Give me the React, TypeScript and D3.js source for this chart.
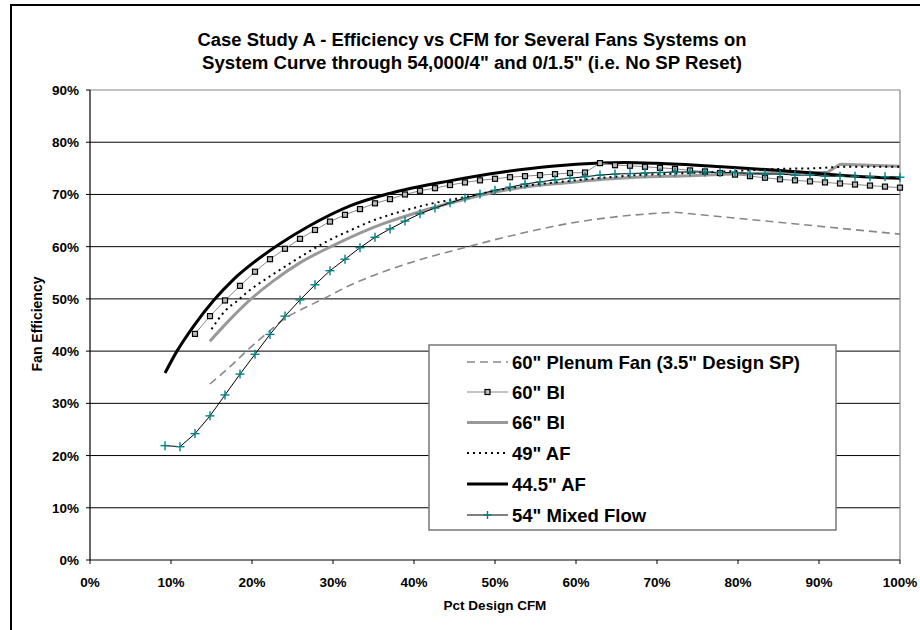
import React from "react";
import * as d3 from "d3";

// ---------- data ----------
const DESIGN_KCFM = 54;
const xTicks = [0, 10, 20, 30, 40, 50, 60, 70, 80, 90, 100];
const yTicks = [0, 10, 20, 30, 40, 50, 60, 70, 80, 90];

const titleLines = [
  "Case Study A - Efficiency vs CFM for Several Fans Systems on",
  "System Curve through 54,000/4\" and 0/1.5\"  (i.e. No SP Reset)",
];

// 54" Mixed Flow — flow in thousand CFM and efficiency %
const mixedKcfm = [5, 6, 7, 8, 9, 10, 11, 12, 13, 14, 15, 16, 17, 18, 19, 20, 21, 22, 23, 24, 25, 26, 27, 28, 29, 30, 31, 32, 33, 34, 35, 36, 37, 38, 39, 40, 41, 42, 43, 44, 45, 46, 47, 48, 49, 50, 51, 52, 53, 54];
const mixedEff = [21.9, 21.7, 24.2, 27.6, 31.6, 35.6, 39.4, 43.2, 46.7, 49.8, 52.7, 55.4, 57.6, 59.8, 61.8, 63.4, 64.9, 66.3, 67.4, 68.4, 69.3, 70.1, 70.8, 71.4, 72.0, 72.4, 72.8, 73.1, 73.4, 73.7, 73.9, 74.0, 74.1, 74.2, 74.3, 74.3, 74.3, 74.2, 74.2, 74.0, 73.9, 73.9, 73.7, 73.7, 73.5, 73.5, 73.5, 73.4, 73.4, 73.3];

// 60" BI
const bi60Kcfm = [7, 8, 9, 10, 11, 12, 13, 14, 15, 16, 17, 18, 19, 20, 21, 22, 23, 24, 25, 26, 27, 28, 29, 30, 31, 32, 33, 34, 35, 36, 37, 38, 39, 40, 41, 42, 43, 44, 45, 46, 47, 48, 49, 50, 51, 52, 53, 54];
const bi60Eff = [43.3, 46.7, 49.7, 52.5, 55.2, 57.6, 59.6, 61.5, 63.2, 64.8, 66.1, 67.2, 68.3, 69.1, 70.0, 70.7, 71.2, 71.8, 72.3, 72.7, 73.0, 73.3, 73.5, 73.7, 73.9, 74.1, 74.2, 76.0, 75.6, 75.5, 75.3, 75.1, 74.9, 74.6, 74.4, 74.1, 73.8, 73.5, 73.2, 72.9, 72.7, 72.5, 72.3, 72.1, 71.9, 71.7, 71.5, 71.3];

// 44.5" AF (pct design CFM, efficiency %)
const af445Pct = [9.26, 10.7, 12.75, 15.2, 17.7, 20.4, 23.5, 27.0, 32.1, 37.0, 44.4, 51.0, 57.0, 63.0, 66.0, 70.0, 78.0, 85.2, 93.4, 100];
const af445Eff = [35.8, 39.9, 44.7, 49.6, 53.7, 57.2, 60.6, 63.9, 67.8, 70.2, 72.6, 74.3, 75.4, 76.0, 76.1, 75.95, 75.3, 74.6, 73.6, 73.1];

// 49" AF
const af49Pct = [15.0, 15.8, 16.8, 18.1, 19.5, 22.2, 24.7, 27.2, 29.6, 32.1, 34.6, 37.0, 39.5, 42.0, 44.4, 46.9, 51.0, 55.1, 59.3, 63.4, 67.5, 72.4, 77.0, 81.1, 85.2, 89.3, 93.4, 100];
const af49Eff = [44.2, 46.0, 47.9, 49.5, 51.4, 54.3, 56.8, 59.2, 61.3, 63.1, 64.8, 66.1, 67.2, 68.2, 68.9, 69.7, 71.0, 71.9, 72.6, 73.2, 73.7, 74.0, 74.3, 74.6, 74.9, 75.0, 75.3, 75.3];

// 66" BI
const bi66Pct = [14.8, 17.0, 19.75, 22.6, 25.9, 30.0, 36.2, 40.3, 44.6, 49.0, 53.1, 59.3, 63.4, 67.5, 74.1, 81.1, 85.2, 91.0, 92.6, 100];
const bi66Eff = [41.9, 45.6, 49.8, 53.4, 56.9, 60.2, 64.4, 66.5, 68.4, 70.1, 71.3, 72.3, 72.9, 73.3, 73.6, 74.0, 74.2, 74.2, 75.8, 75.4];

// 60" Plenum Fan (3.5" Design SP)
const plenumPct = [14.8, 17.7, 19.3, 22.2, 24.1, 26.0, 28.8, 32.1, 34.2, 40.3, 45.7, 53.1, 59.3, 65.4, 72.2, 100];
const plenumEff = [33.7, 37.6, 40.0, 43.9, 46.3, 47.9, 50.0, 52.6, 54.0, 57.3, 59.6, 62.5, 64.5, 65.8, 66.6, 62.4];

const legendLabels = [
  "60\" Plenum Fan (3.5\" Design SP)",
  "60\" BI",
  "66\" BI",
  "49\" AF",
  "44.5\" AF",
  "54\" Mixed Flow",
];

// ---------- layout ----------
const W = 920;
const H = 630;
const PL = 90, PR = 900, PT = 90, PB = 560;
const FONT = "'Liberation Sans', Arial, Helvetica, sans-serif";
const TEAL = "#008080";

type P = [number, number];
const zip = (xs: number[], ys: number[]): P[] => xs.map((x, i) => [x, ys[i]]);

export default function App() {
  const x = d3.scaleLinear().domain([0, 100]).range([PL, PR]);
  const y = d3.scaleLinear().domain([0, 90]).range([PB, PT]);

  const lin = d3.line<P>().x((d) => x(d[0])).y((d) => y(d[1]));
  const smooth = d3.line<P>().x((d) => x(d[0])).y((d) => y(d[1])).curve(d3.curveMonotoneX);

  const mixed = zip(mixedKcfm.map((k) => (k / DESIGN_KCFM) * 100), mixedEff);
  const bi60 = zip(bi60Kcfm.map((k) => (k / DESIGN_KCFM) * 100), bi60Eff);
  const af445 = zip(af445Pct, af445Eff);
  const af49 = zip(af49Pct, af49Eff);
  const bi66 = zip(bi66Pct, bi66Eff);
  const plenum = zip(plenumPct, plenumEff);

  const bi66Smooth = bi66.slice(0, bi66.length - 2);
  const bi66Tail = bi66.slice(bi66.length - 3);
  const plenumSmooth = plenum.slice(0, plenum.length - 1);
  const plenumTail = plenum.slice(plenum.length - 2);

  const plus = (cx: number, cy: number, key: any, s = 4.5) => (
    <g key={key} stroke={TEAL} strokeWidth={1.4}>
      <line x1={cx - s} x2={cx + s} y1={cy} y2={cy} />
      <line x1={cx} x2={cx} y1={cy - s} y2={cy + s} />
    </g>
  );
  const square = (cx: number, cy: number, key: any) => (
    <rect key={key} x={cx - 2.5} y={cy - 2.5} width={5} height={5} fill="#bbb" stroke="#000" strokeWidth={1.2} />
  );

  // legend
  const LX0 = 429, LX1 = 836, LY0 = 345, LY1 = 530;
  const rowY = [362, 392, 422.5, 453, 484, 515];
  const sx0 = 467, sx1 = 508, smid = 487.5;
  const legendStyles = [
    { stroke: "#888", w: 1.6, dash: "8,5" },
    { stroke: "#888", w: 1, dash: undefined },
    { stroke: "#999", w: 3, dash: undefined },
    { stroke: "#000", w: 2, dash: "2,4" },
    { stroke: "#000", w: 3, dash: undefined },
    { stroke: "#000", w: 1, dash: undefined },
  ];

  return (
    <svg
      width={W}
      height={H}
      style={{ position: "absolute", left: 0, top: 0, background: "#fff" }}
      fontFamily={FONT}
    >
      <rect x={0} y={0} width={W} height={H} fill="#fff" />
      {/* outer chart border */}
      <line x1={11} x2={W} y1={5} y2={5} stroke="#000" strokeWidth={2} />
      <line x1={11} x2={11} y1={4} y2={H} stroke="#000" strokeWidth={2} />

      {/* title */}
      {titleLines.map((t, i) => (
        <text
          key={i}
          x={472}
          y={45.5 + i * 23}
          textAnchor="middle"
          fontSize={18}
          fontWeight="bold"
          textLength={i === 0 ? 549 : 540}
          lengthAdjust="spacingAndGlyphs"
        >
          {t}
        </text>
      ))}

      {/* gridlines */}
      {yTicks.filter((t) => t > 0 && t < 90).map((t) => (
        <line key={t} x1={PL} x2={PR} y1={y(t)} y2={y(t)} stroke="#000" strokeWidth={1} />
      ))}
      {/* plot border top/right */}
      <line x1={PL} x2={PR} y1={y(90)} y2={y(90)} stroke="#888" strokeWidth={1.2} />
      <line x1={PR} x2={PR} y1={PT} y2={PB} stroke="#888" strokeWidth={1.2} />

      {/* axes */}
      <line x1={PL} x2={PL} y1={PT} y2={PB} stroke="#000" strokeWidth={1.2} />
      <line x1={PL} x2={PR} y1={PB} y2={PB} stroke="#000" strokeWidth={1.2} />
      {yTicks.map((t) => (
        <g key={t}>
          <line x1={PL - 4} x2={PL} y1={y(t)} y2={y(t)} stroke="#000" strokeWidth={1} />
          <text x={79} y={y(t) + 5} textAnchor="end" fontSize={13.5} fontWeight="bold">
            {t}%
          </text>
        </g>
      ))}
      {xTicks.map((t) => (
        <g key={t}>
          <line x1={x(t)} x2={x(t)} y1={PB} y2={PB + 4} stroke="#000" strokeWidth={1} />
          <text x={x(t)} y={587} textAnchor="middle" fontSize={13.5} fontWeight="bold">
            {t}%
          </text>
        </g>
      ))}
      <text x={495} y={610} textAnchor="middle" fontSize={13.5} fontWeight="bold">
        Pct Design CFM
      </text>
      <text transform="translate(42,324) rotate(-90)" textAnchor="middle" fontSize={14} fontWeight="bold">
        Fan Efficiency
      </text>

      {/* series */}
      <path d={smooth(plenumSmooth) || ""} fill="none" stroke="#888" strokeWidth={1.6} strokeDasharray="8,5" />
      <path d={lin(plenumTail) || ""} fill="none" stroke="#888" strokeWidth={1.6} strokeDasharray="8,5" />

      <path d={smooth(bi66Smooth) || ""} fill="none" stroke="#999" strokeWidth={3} />
      <path d={lin(bi66Tail) || ""} fill="none" stroke="#999" strokeWidth={3} />

      <path d={smooth(af49) || ""} fill="none" stroke="#000" strokeWidth={2} strokeDasharray="2,4" />

      <path d={smooth(af445) || ""} fill="none" stroke="#000" strokeWidth={3} />

      <path d={lin(bi60) || ""} fill="none" stroke="#888" strokeWidth={1} />
      {bi60.map((d, i) => square(x(d[0]), y(d[1]), "s" + i))}

      <path d={lin(mixed) || ""} fill="none" stroke="#000" strokeWidth={1} />
      {mixed.map((d, i) => plus(x(d[0]), y(d[1]), "p" + i))}

      {/* legend */}
      <rect x={LX0} y={LY0} width={LX1 - LX0} height={LY1 - LY0} fill="#fff" stroke="#777" strokeWidth={1.5} />
      {legendLabels.map((lab, i) => {
        const st = legendStyles[i];
        const cy = rowY[i];
        return (
          <g key={lab}>
            <line x1={sx0} x2={sx1} y1={cy} y2={cy} stroke={st.stroke} strokeWidth={st.w} strokeDasharray={st.dash} />
            {i === 1 && square(smid, cy, "ls")}
            {i === 5 && plus(smid, cy, "lp", 4)}
            <text x={512} y={cy + 6.8} fontSize={18.5} fontWeight="bold">
              {lab}
            </text>
          </g>
        );
      })}
    </svg>
  );
}
